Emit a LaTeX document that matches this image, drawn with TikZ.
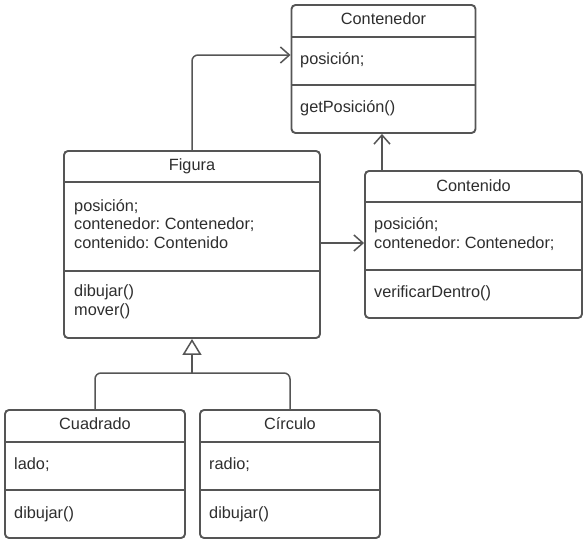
\documentclass[tikz,border=0pt]{standalone}
\usepackage{fontspec}
\setmainfont{Liberation Sans}
\usetikzlibrary{arrows.meta}
\definecolor{ln}{HTML}{555555}
\definecolor{tx}{HTML}{2E2E2E}
\frenchspacing
\begin{document}
\begin{tikzpicture}[x=1pt,y=-1pt,
  cls/.style={draw=ln, line width=1.9pt, rounded corners=4pt, fill=white, inner sep=0pt},
  dv/.style={draw=ln, line width=1.7pt},
  conn/.style={draw=ln, line width=1.5pt, rounded corners=6pt},
  txt/.style={text=tx, font=\fontsize{16.3}{18.6}\selectfont, inner sep=0pt, align=left},
  ttl/.style={text=tx, font=\fontsize{16.3}{18.6}\selectfont, inner sep=0pt},
  barb/.style={-{Straight Barb[length=9pt,width=16pt,line width=1.5pt]}},
  inh/.style={-{Triangle[open,length=16pt,width=19pt,line width=1.5pt]}}]
\useasboundingbox (0,0) rectangle (587,546);

% Contenedor
\node[cls, minimum width=184pt, minimum height=128pt] (cont) at (383.5,69) {};
\draw[dv] (cont.west |- 0,37) -- (cont.east |- 0,37);
\draw[dv] (cont.west |- 0,85) -- (cont.east |- 0,85);
\node[ttl] (contT) at (383.5,19) {Contenedor};
\node[txt, anchor=west] (contA) at (300,60) {posición;};
\node[txt, anchor=west] (contM) at (300,108) {getPosición()};

% Figura
\node[cls, minimum width=256pt, minimum height=187pt] (fig) at (192,244.5) {};
\draw[dv] (fig.west |- 0,182) -- (fig.east |- 0,182);
\draw[dv] (fig.west |- 0,271) -- (fig.east |- 0,271);
\node[ttl] (figT) at (192,166) {Figura};
\node[txt, anchor=west] (figA) at (74,224) {posición;\\contenedor: Contenedor;\\contenido: Contenido};
\node[txt, anchor=west] (figM) at (74,302) {dibujar()\\mover()};

% Contenido
\node[cls, minimum width=217pt, minimum height=147pt] (cdo) at (473.5,244.5) {};
\draw[dv] (cdo.west |- 0,202) -- (cdo.east |- 0,202);
\draw[dv] (cdo.west |- 0,270) -- (cdo.east |- 0,270);
\node[ttl] (cdoT) at (473.5,186) {Contenido};
\node[txt, anchor=west] (cdoA) at (374,234) {posición;\\contenedor: Contenedor;};
\node[txt, anchor=west] (cdoM) at (374,293) {verificarDentro()};

% Cuadrado
\node[cls, minimum width=180pt, minimum height=128pt] (cua) at (95,474) {};
\draw[dv] (cua.west |- 0,442) -- (cua.east |- 0,442);
\draw[dv] (cua.west |- 0,490) -- (cua.east |- 0,490);
\node[ttl] (cuaT) at (95,424) {Cuadrado};
\node[txt, anchor=west] (cuaA) at (14,465) {lado;};
\node[txt, anchor=west] (cuaM) at (14,514) {dibujar()};

% Circulo
\node[cls, minimum width=180pt, minimum height=128pt] (cir) at (290,474) {};
\draw[dv] (cir.west |- 0,442) -- (cir.east |- 0,442);
\draw[dv] (cir.west |- 0,490) -- (cir.east |- 0,490);
\node[ttl] (cirT) at (290,424) {Círculo};
\node[txt, anchor=west] (cirA) at (209,465) {radio;};
\node[txt, anchor=west] (cirM) at (209,514) {dibujar()};

% connectors
\coordinate (j) at (192,373);
\draw[conn, barb] (fig.north) |- (cont.west |- 0,55);
\draw[conn, barb] (fig.east |- 0,243) -- (cdo.west |- 0,243);
\draw[conn, barb] (cdo.north -| 382,0) -- (cont.south -| 382,0);
\draw[conn] (cua.north) |- (j);
\draw[conn] (cir.north) |- (j);
\draw[conn, inh] (j) -- (fig.south);
\end{tikzpicture}
\end{document}
